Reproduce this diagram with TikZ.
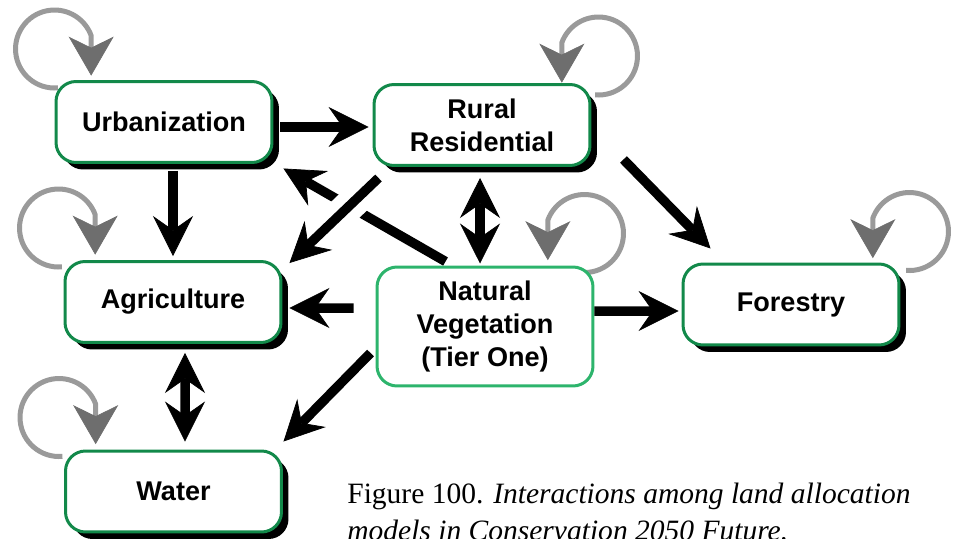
\documentclass[tikz,border=0pt]{standalone}
\usepackage{fontspec}
\setmainfont{Liberation Serif}
\newfontfamily\boxfont{Liberation Sans}
\usetikzlibrary{arrows.meta,calc,shadows,backgrounds}

\definecolor{boxgreen}{HTML}{12894A}
\definecolor{natgreen}{HTML}{2DB46C}
\definecolor{loopgray}{HTML}{9A9A9A}
\definecolor{tipgray}{HTML}{6E6E6E}

\begin{document}
\begin{tikzpicture}[x=0.02cm, y=0.02cm,
    landbox/.style={draw=boxgreen, line width=0.06cm, fill=white, rounded corners=0.4cm,
        minimum width=4.32cm, minimum height=1.62cm, align=center,
        font=\boxfont\bfseries\fontsize{15.4}{18.7}\selectfont,
        drop shadow={shadow xshift=0.14cm, shadow yshift=-0.14cm, fill=black, opacity=1}},
    natbox/.style={draw=natgreen, line width=0.06cm, fill=white, rounded corners=0.4cm,
        minimum width=4.32cm, minimum height=2.38cm, align=center,
        font=\boxfont\bfseries\fontsize{15.4}{18.7}\selectfont},
    flow/.style={line width=0.19cm, -{Stealth[length=0.8cm, width=0.8cm, inset=0.28cm, line width=0.4pt]}},
    twoway/.style={line width=0.19cm, {Stealth[length=0.8cm, width=0.8cm, inset=0.28cm, line width=0.4pt]}-{Stealth[length=0.8cm, width=0.8cm, inset=0.28cm, line width=0.4pt]}},
    selfloop/.style={draw=loopgray, line width=0.1cm, -{Stealth[length=0.78cm, width=0.9cm, inset=0.22cm, color=tipgray, line width=0.4pt]}},
    gap/.style={draw=white, line width=0.62cm},
    caption/.style={anchor=base west, inner sep=0pt, font=\fontsize{16.8}{21}\selectfont}]

    \useasboundingbox (0,0) rectangle (956,538);

    % Land allocation models
    \node[landbox] (urban) at (164,416) {Urbanization};
    \node[landbox] (rural) at (482,413) {Rural\\Residential};
    \node[landbox] (agri) at (173,236) {Agriculture};
    \node[natbox] (natveg) at (485,211.5) {Natural\\Vegetation\\(Tier One)};
    \node[landbox] (forest) at (791,233.5) {Forestry};
    \node[landbox] (water) at (173.5,46.5) {Water};

    % Each model feeds back on itself
    \begin{scope}[on background layer]
    \draw[selfloop] ($(urban.north west)+(0,31)$) ++(275:39) arc[start angle=275, end angle=20, radius=39] -- ++(0,-40);
    \draw[selfloop] ($(agri.north west)+(-5,32)$) ++(275:39) arc[start angle=275, end angle=20, radius=39] -- ++(0,-40);
    \draw[selfloop] ($(water.north west)+(-5,32)$) ++(275:39) arc[start angle=275, end angle=20, radius=39] -- ++(0,-40);
    \draw[selfloop] ($(rural.north east)+(7,27)$) ++(265:39) arc[start angle=265, end angle=520, radius=39] -- ++(0,-40);
    \draw[selfloop] ($(natveg.north east)+(-10,32)$) ++(265:39) arc[start angle=265, end angle=520, radius=39] -- ++(0,-40);
    \draw[selfloop] ($(forest.north east)+(9,31)$) ++(265:39) arc[start angle=265, end angle=520, radius=39] -- ++(0,-40);
    \end{scope}

    % Interactions between models
    \draw[flow, shorten <=0.14cm, shorten >=0.08cm] (urban.east |- 0,411) -- (rural.west |- 0,411);
    \draw[flow, shorten <=0.14cm, shorten >=0.08cm] (agri.north |- urban.south) -- (agri.north);
    \draw[flow] ($(natveg.north west)+(70,4)$) -- ($(urban.south east)+(10,-4.5)$);
    \draw[gap, shorten <=0.5cm, shorten >=1.34cm] ($(rural.south west)+(6,-11)$) -- ($(agri.north east)+(7,-3)$); % white break where it crosses
    \draw[flow] ($(rural.south west)+(6,-11)$) -- ($(agri.north east)+(7,-3)$);
    \draw[twoway] ($(rural.south)+(-2,-11)$) -- ($(natveg.north)+(-5,2)$);
    \draw[flow] ($(rural.south east)+(32,7.5)$) -- ($(forest.north west)+(29,14)$);
    \draw[flow] ($(natveg.west)+(-22,18.5)$) -- ($(agri.east)+(7,-6)$);
    \draw[flow] ($(natveg.east)+(0,15.5)$) -- ($(forest.west)+(-3,-6.5)$);
    \draw[flow] ($(natveg.west)+(-5,-26.5)$) -- ($(water.north east)+(0.5,8)$);
    \draw[twoway] ($(agri.south)+(12,-9)$) -- ($(water.north)+(11.5,8)$);

    % Caption
    \node[caption] (capone) at (347,35) {Figure 100. \textit{Interactions among land allocation}};
    \node[caption] (captwo) at (347,-2) {\textit{models in Conservation 2050 Future.}};
\end{tikzpicture}
\end{document}
